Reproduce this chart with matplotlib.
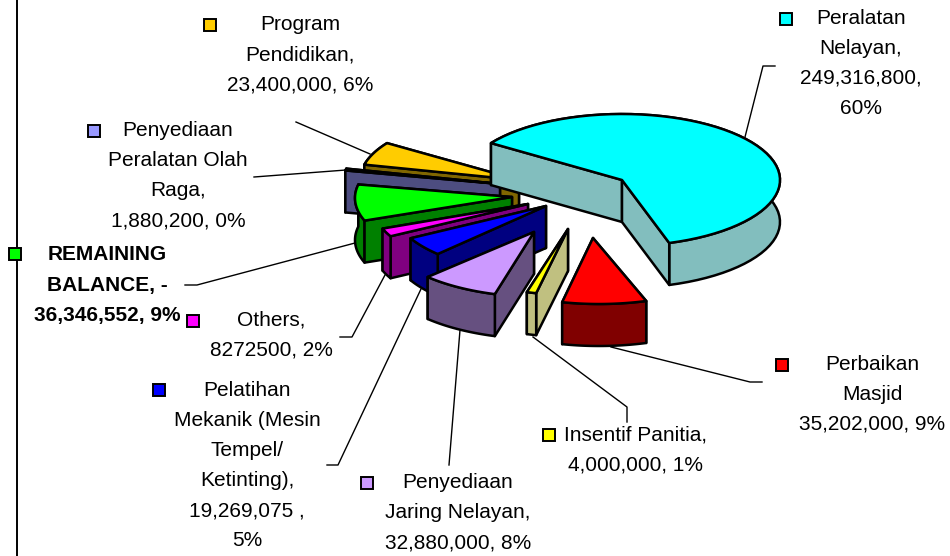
#!/usr/bin/env python3
"""
Exploded 3D style pie of fund allocation, drawn as flat polygons
"""

import numpy as np
import matplotlib
matplotlib.use("Agg")
import matplotlib.pyplot as plt
from matplotlib.patches import Polygon, Rectangle

plt.rcParams['font.family'] = ['Liberation Sans', 'DejaVu Sans']

# Slices in clockwise order
names = ["Peralatan Nelayan", "Perbaikan Masjid", "Insentif Panitia",
         "Penyediaan Jaring Nelayan", "Pelatihan Mekanik (Mesin Tempel/ Ketinting)",
         "Others", "REMAINING BALANCE", "Penyediaan Peralatan Olah Raga",
         "Program Pendidikan"]
values = [249316800, 35202000, 4000000, 32880000, 19269075,
          8272500, 36346552, 1880200, 23400000]

top_colors = ['#00FFFF', '#FF0000', '#FFFF00', '#CC99FF', '#0000FF',
              '#FF00FF', '#00FF00', '#9999FF', '#FFCC00']
side_colors = ['#82BEBE', '#800000', '#C0C080', '#665080', '#000080',
               '#800080', '#008000', '#4D4D80', '#806600']
key_colors = top_colors

# Pie shape, in pixels of the 950x556 canvas
RX, RY, DEPTH = 158, 66, 42
START_DEG = 146
PIE_CENTER = (565, 205)
# explode offset of each slice from the pie center, and shift of the apex
explode = [(57, -25), (34, 33), (8, 24), (-24, 26), (-14, 3),
           (-34, 1), (-52, -7), (-65, -21), (-47, -25)]
apex_shift = [(0, 0), (-6, 0), (-5, 0), (-7, 1), (-5, -2),
              (-3, -2), (-1, -1), (0, 0), (1, 0)]
draw_order = [8, 7, 6, 5, 4, 3, 2, 1, 0]

# Label lines, center x and y of each line
label_lines = [
    ["Peralatan", "Nelayan,", "249,316,800,", "60%"],
    ["Perbaikan", "Masjid", "35,202,000, 9%"],
    ["Insentif Panitia,", "4,000,000, 1%"],
    ["Penyediaan", "Jaring Nelayan,", "32,880,000, 8%"],
    ["Pelatihan", "Mekanik (Mesin", "Tempel/", "Ketinting),", "19,269,075 ,", "5%"],
    ["Others,", "8272500, 2%"],
    ["REMAINING", "BALANCE, -", "36,346,552, 9%"],
    ["Penyediaan", "Peralatan Olah", "Raga,", "1,880,200, 0%"],
    ["Program", "Pendidikan,", "23,400,000, 6%"],
]
label_x = [861, 872, 636, 458, 247, 271, 107, 178, 300]
label_y = [18, 364, 435, 483, 391, 320, 255, 131, 25]
key_x = [786, 782, 549, 367, 159, 193, 15, 94, 210]
key_y = [19, 365, 435, 483, 390, 321, 254, 131, 25]

leaders = [
    [(745, 137), (763, 66), (775, 66)],
    [(611, 347), (750, 382), (762, 382)],
    [(533, 337), (627, 407), (627, 422)],
    [(460, 330), (449, 465)],
    [(421, 289), (338, 465), (327, 465)],
    [(385, 275), (352, 337), (340, 337)],
    [(355, 243), (197, 285), (185, 285)],
    [(346, 170), (254, 177)],
    [(370, 154), (296, 122)],
]


def draw_slice(ax, start, end, center, apex, top, side):
    """Draw one slice: walls from back to front, then the top face"""
    t = np.radians(np.linspace(start, end, 60))
    arc = np.column_stack([center[0] + RX * np.cos(t), center[1] - RY * np.sin(t)])
    down = np.array([0, DEPTH])
    apex = np.array(apex, dtype=float)

    walls = [
        np.array([apex, arc[0], arc[0] + down, apex + down]),
        np.array([apex, arc[-1], arc[-1] + down, apex + down]),
        np.vstack([arc, arc[::-1] + down]),
    ]
    for wall in sorted(walls, key=lambda w: w[:len(w) // 2, 1].mean()):
        ax.add_patch(Polygon(wall, closed=True, facecolor=side, edgecolor='black',
                             linewidth=1.8, joinstyle='round', zorder=3))
    ax.add_patch(Polygon(np.vstack([apex, arc]), closed=True, facecolor=top,
                         edgecolor='black', linewidth=1.8, joinstyle='round', zorder=3))


def main():
    fig = plt.figure(figsize=(9.5, 5.56), dpi=100)
    ax = fig.add_axes([0, 0, 1, 1])
    ax.set_xlim(0, 950)
    ax.set_ylim(556, 0)
    ax.axis('off')

    # Left edge line of the chart area
    ax.plot([17, 17], [0, 556], color='black', linewidth=1.4, zorder=1)

    for pts in leaders:
        xs, ys = zip(*pts)
        ax.plot(xs, ys, color='black', linewidth=1.0, zorder=2)

    sweep = 360 * np.array(values) / sum(values)
    ends = START_DEG - np.cumsum(sweep)
    starts = ends + sweep

    for i in draw_order:
        center = (PIE_CENTER[0] + explode[i][0], PIE_CENTER[1] + explode[i][1])
        apex = (center[0] + apex_shift[i][0], center[1] + apex_shift[i][1])
        draw_slice(ax, starts[i], ends[i], center, apex, top_colors[i], side_colors[i])

    for i, lines in enumerate(label_lines):
        weight = 'bold' if names[i] == "REMAINING BALANCE" else 'normal'
        for j, line in enumerate(lines):
            ax.text(label_x[i], label_y[i] + j * 30, line, ha='center', va='center',
                    fontsize=15, color='black', fontweight=weight, zorder=4)
        ax.add_patch(Rectangle((key_x[i] - 6, key_y[i] - 6), 12, 12,
                               facecolor=key_colors[i], edgecolor='black',
                               linewidth=1.4, zorder=5))

    fig.savefig('out.png', dpi=100)


if __name__ == "__main__":
    main()
